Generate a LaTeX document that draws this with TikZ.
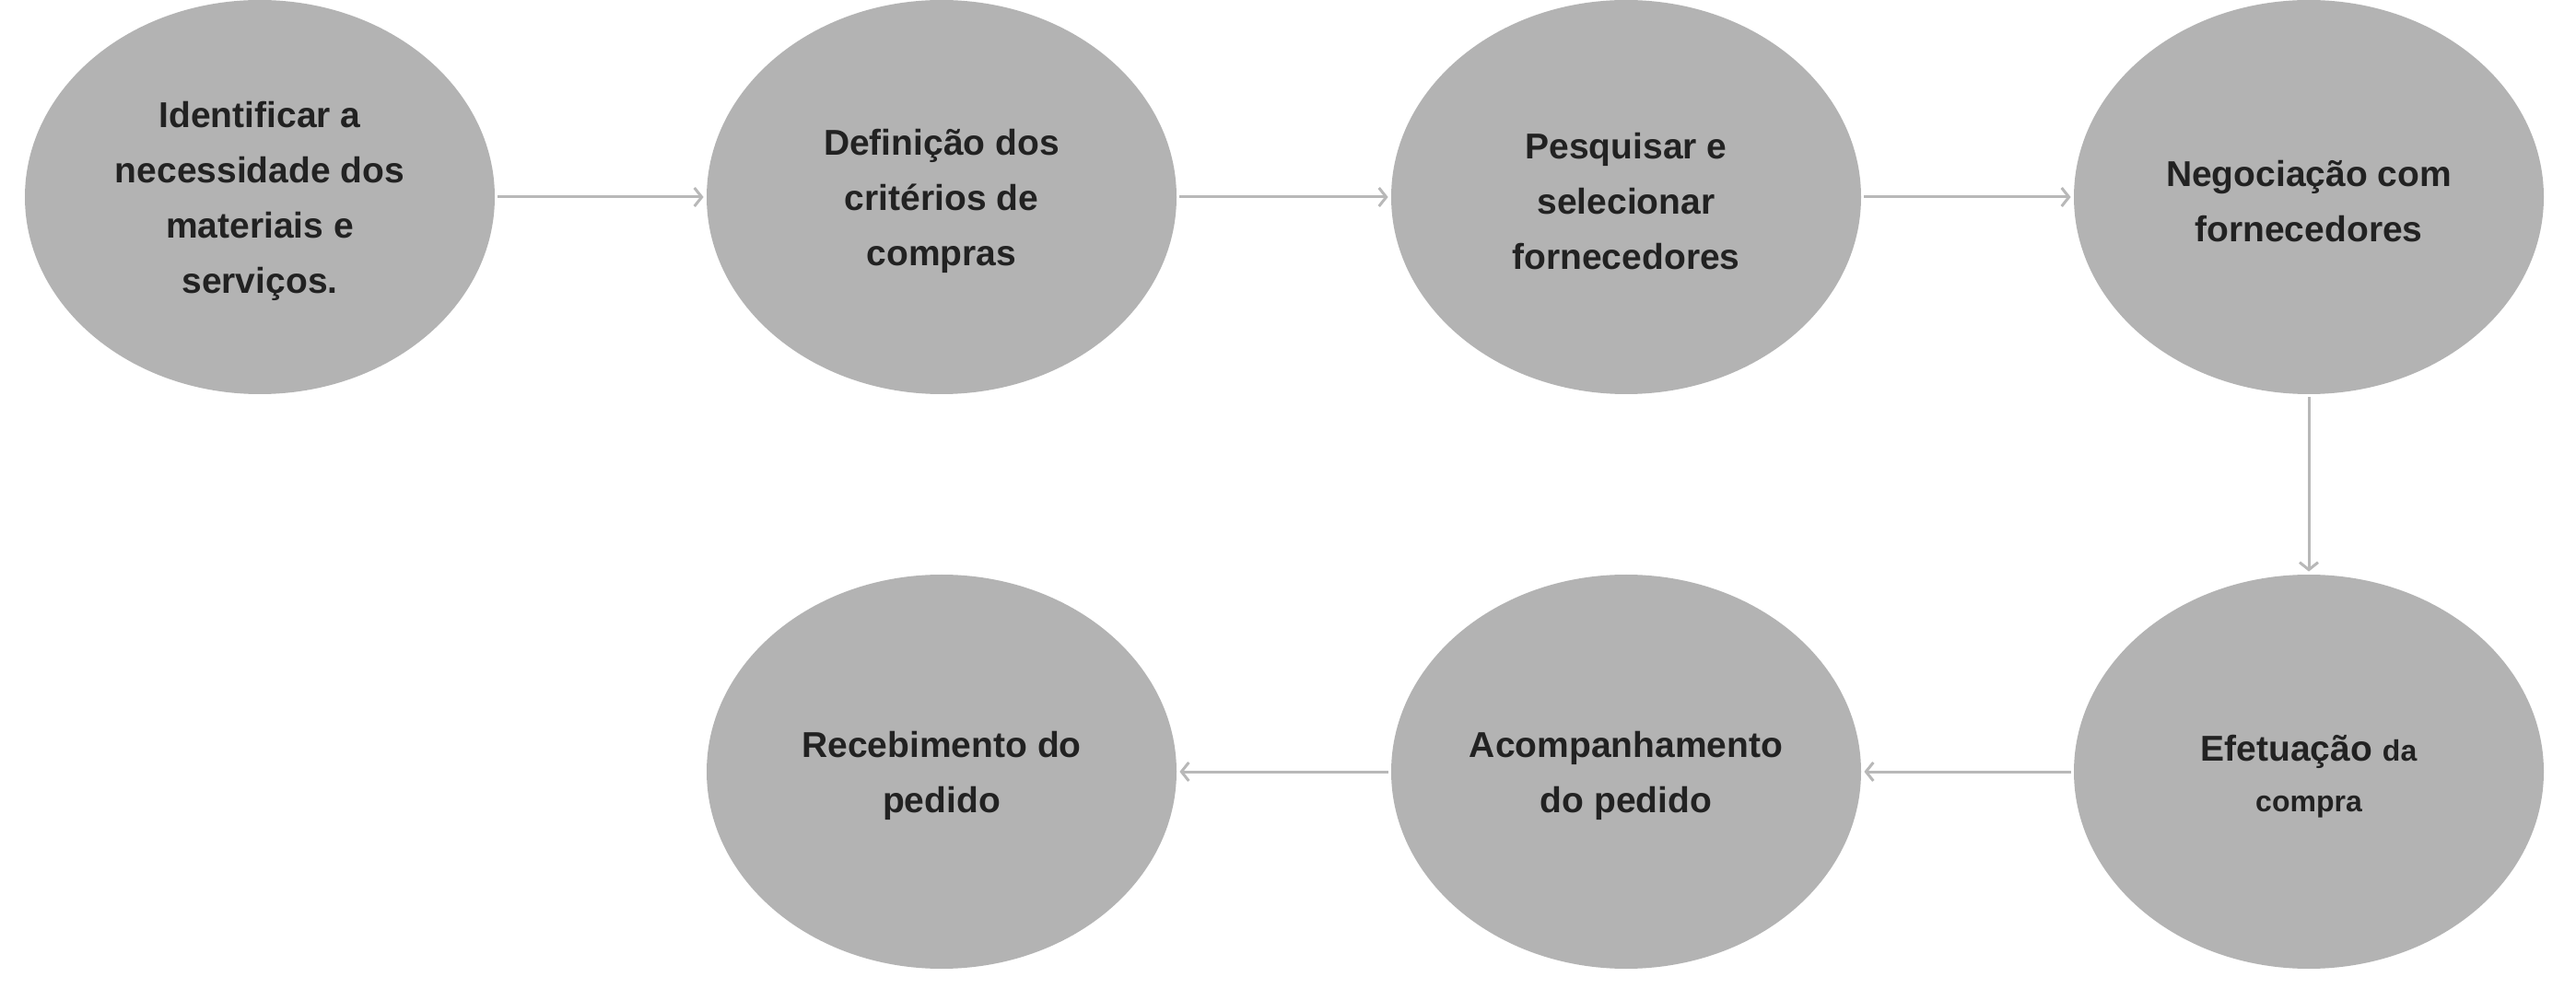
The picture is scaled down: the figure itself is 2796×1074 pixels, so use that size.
\documentclass[tikz,border=0pt]{standalone}
\usepackage{fontspec}
\setmainfont{Liberation Sans}
\usetikzlibrary{shapes.geometric,arrows.meta}
\definecolor{bubble}{HTML}{B3B3B3}
\definecolor{linec}{HTML}{B8B8B8}
\definecolor{txt}{HTML}{222222}
\newcommand{\dn}{\rule{0pt}{19pt}}
\tikzset{
  bub/.style={ellipse, fill=bubble, draw=none, minimum width=255pt, minimum height=214pt,
    inner sep=0pt, align=center, text=txt, font=\fontsize{19.5}{30}\selectfont\bfseries},
  conn/.style={draw=linec, line width=1.5pt, -{Straight Barb[length=4pt,width=10pt,line width=1.5pt]},
    shorten <=1.5pt, shorten >=1.5pt}
}
\begin{document}
\begin{tikzpicture}[x=0.5pt,y=-0.5pt]
\useasboundingbox (0,0) rectangle (2796,1074);
\node[bub] (n1) at (282,214) {\dn Identificar a\\necessidade dos\\materiais e\\serviços.};
\node[bub] (n2) at (1022,214) {\dn Definição dos\\critérios de\\compras};
\node[bub] (n3) at (1765,214) {\dn Pesquisar e\\selecionar\\fornecedores};
\node[bub] (n4) at (2506,214) {\dn Negociação com\\fornecedores};
\node[bub, font=\fontsize{19.5}{27.5}\selectfont\bfseries] (n5) at (2506,838) {\dn Efetuação {\fontsize{16}{27.5}\selectfont da}\\{\fontsize{16}{27.5}\selectfont compra}};
\node[bub] (n6) at (1765,838) {\dn Acompanhamento\\do pedido};
\node[bub] (n7) at (1022,838) {\dn Recebimento do\\pedido};
\draw[conn] (n1) -- (n2);
\draw[conn] (n2) -- (n3);
\draw[conn] (n3) -- (n4);
\draw[conn] (n4) -- (n5);
\draw[conn] (n5) -- (n6);
\draw[conn] (n6) -- (n7);
\end{tikzpicture}
\end{document}
